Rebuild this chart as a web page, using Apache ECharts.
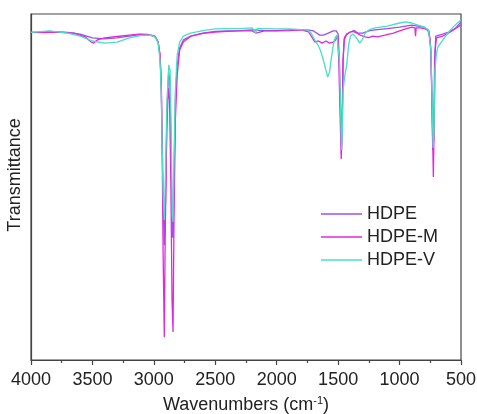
<!DOCTYPE html>
<html>
<head>
<meta charset="utf-8">
<script src="https://cdn.jsdelivr.net/npm/echarts@6/dist/echarts.min.js"></script>
<style>
  html, body { margin: 0; padding: 0; background: #fff; }
  #chart { width: 477px; height: 414px; }
</style>
</head>
<body>
<div id="chart"></div>
<script>
// FTIR spectra, [wavenumber (cm-1), transmittance (a.u.)]
const hdpe = [
  [4000, 94.7], [3900, 94.7], [3850, 95.0], [3800, 94.8], [3700, 94.7], [3600, 94.2],
  [3500, 93.1], [3400, 92.8], [3300, 93.1], [3200, 93.6], [3100, 94.1], [3030, 93.9],
  [2990, 93.4], [2965, 91.9], [2950, 88.2], [2940, 80.9], [2932, 63.6], [2925, 46.2],
  [2915, 33.2], [2905, 46.2], [2893, 72.3], [2880, 83.2], [2870, 80.9], [2860, 60.7],
  [2850, 36.1], [2844, 35.3], [2836, 52.0], [2825, 75.1], [2810, 85.3], [2790, 90.2],
  [2760, 92.5], [2700, 93.6], [2600, 94.5], [2500, 95.0], [2400, 95.1], [2300, 95.2],
  [2200, 95.4], [2100, 95.2], [2000, 95.2], [1900, 95.4], [1800, 95.5], [1750, 95.4],
  [1700, 95.1], [1650, 93.9], [1620, 93.9], [1580, 94.5], [1540, 95.1], [1515, 95.1],
  [1500, 94.2], [1490, 86.7], [1480, 72.3], [1472, 60.7], [1466, 69.4], [1460, 86.7],
  [1450, 92.5], [1430, 94.2], [1400, 94.8], [1370, 95.2], [1340, 94.5], [1300, 94.5],
  [1250, 95.1], [1200, 95.4], [1100, 95.8], [1000, 96.2], [950, 96.5], [900, 96.8],
  [850, 96.5], [800, 96.2], [770, 95.4], [750, 92.5], [740, 80.9], [730, 60.7],
  [722, 63.6], [715, 86.7], [705, 93.6], [650, 94.2], [600, 94.8], [550, 95.7], [500, 97.7]
];

const hdpeM = [
  [4000, 94.7], [3900, 94.6], [3800, 94.8], [3650, 94.5], [3560, 93.4], [3510, 91.9],
  [3490, 91.6], [3460, 92.5], [3400, 93.1], [3300, 93.5], [3200, 93.9], [3120, 94.2],
  [3050, 94.1], [2990, 93.6], [2965, 91.9], [2950, 88.2], [2940, 79.5], [2932, 60.7],
  [2925, 31.8], [2915, 6.6], [2908, 34.7], [2895, 66.5], [2882, 78.6], [2872, 75.1],
  [2862, 52.0], [2852, 17.3], [2844, 8.1], [2836, 40.5], [2825, 69.4], [2810, 82.4],
  [2790, 89.6], [2760, 91.9], [2700, 93.6], [2600, 94.4], [2500, 94.8], [2400, 95.0],
  [2300, 95.1], [2200, 95.1], [2170, 94.5], [2100, 95.1], [2000, 95.1], [1900, 95.2],
  [1800, 95.4], [1740, 94.8], [1710, 93.1], [1690, 91.9], [1660, 92.2], [1630, 91.6],
  [1600, 92.2], [1570, 91.6], [1540, 91.9], [1520, 92.5], [1505, 93.6], [1495, 86.7],
  [1485, 72.3], [1475, 58.1], [1468, 66.5], [1460, 86.7], [1450, 93.1], [1430, 94.2],
  [1400, 94.8], [1380, 95.0], [1350, 94.5], [1320, 93.9], [1280, 93.4], [1250, 93.2],
  [1220, 93.6], [1180, 93.4], [1120, 93.9], [1050, 94.5], [1000, 95.1], [950, 95.7],
  [900, 96.2], [875, 96.0], [870, 93.6], [865, 96.0], [830, 96.0], [790, 95.7],
  [760, 95.1], [745, 89.6], [735, 72.3], [725, 52.9], [718, 69.4], [710, 89.6],
  [700, 93.1], [650, 93.6], [600, 94.5], [550, 95.7], [500, 96.8]
];

const hdpeV = [
  [4000, 94.7], [3850, 95.1], [3700, 94.5], [3600, 93.6], [3500, 92.2], [3400, 91.6],
  [3300, 91.9], [3200, 93.1], [3100, 93.8], [3030, 93.9], [2990, 93.4], [2965, 91.6],
  [2950, 86.7], [2940, 78.0], [2932, 60.7], [2925, 49.1], [2915, 40.5], [2905, 54.9],
  [2893, 75.1], [2878, 85.3], [2868, 83.8], [2858, 63.6], [2850, 41.9], [2844, 39.9],
  [2836, 57.8], [2825, 78.0], [2810, 88.2], [2790, 91.9], [2760, 93.6], [2700, 94.5],
  [2600, 95.2], [2500, 95.7], [2400, 95.8], [2300, 95.8], [2200, 96.0], [2170, 94.5],
  [2160, 95.8], [2100, 95.8], [2000, 95.7], [1900, 95.7], [1800, 95.5], [1750, 95.4],
  [1720, 94.5], [1700, 93.1], [1680, 91.9], [1660, 90.8], [1640, 89.0], [1620, 86.7],
  [1600, 83.8], [1585, 81.8], [1570, 83.2], [1555, 87.3], [1540, 91.0], [1525, 93.1],
  [1510, 93.9], [1500, 93.6], [1490, 86.7], [1480, 72.3], [1472, 60.7], [1466, 66.5],
  [1460, 78.0], [1445, 82.4], [1430, 85.3], [1415, 91.0], [1400, 93.6], [1380, 94.2],
  [1350, 93.1], [1325, 91.6], [1305, 92.5], [1280, 94.5], [1250, 95.4], [1200, 96.0],
  [1100, 96.5], [1000, 97.4], [950, 97.7], [900, 97.4], [850, 96.8], [800, 96.2],
  [765, 95.4], [745, 89.6], [735, 75.1], [727, 61.3], [720, 66.5], [712, 83.8],
  [700, 88.7], [687, 90.5], [660, 91.9], [630, 93.4], [600, 94.8], [565, 96.2],
  [530, 97.4], [500, 98.3]
];

const seriesNames = ['HDPE', 'HDPE-M', 'HDPE-V'];
const seriesColors = ['#9d50e6', '#e028dc', '#46e0c4'];
const seriesData = [hdpe, hdpeM, hdpeV];

const chart = echarts.init(document.getElementById('chart'));
const font = 'Arial, "Liberation Sans", sans-serif';

chart.setOption({
  animation: false,
  backgroundColor: '#fff',
  grid: {
    left: 31, right: 16, top: 14, bottom: 54,
    outerBoundsMode: 'none',
    containLabel: false,
    show: true, borderColor: '#444', borderWidth: 1.2
  },
  legend: {
    orient: 'vertical',
    left: 316,
    top: 200,
    icon: 'rect',
    itemWidth: 41,
    itemHeight: 1.5,
    itemGap: 5,
    textStyle: { fontSize: 18, fontFamily: font, color: '#222', lineHeight: 18 },
    data: seriesNames
  },
  xAxis: {
    type: 'value',
    min: 500,
    max: 4000,
    interval: 500,
    inverse: true,
    name: 'Wavenumbers (cm{sup|-1})',
    nameLocation: 'middle',
    nameGap: 35,
    nameTextStyle: {
      fontSize: 18, fontFamily: font, color: '#222',
      rich: { sup: { fontSize: 11, fontFamily: font, color: '#222', verticalAlign: 'top', padding: [0, 0, 9, 0] } }
    },
    axisLine: { lineStyle: { color: '#444', width: 1.2 } },
    axisTick: { length: 5, lineStyle: { color: '#444', width: 1.2 } },
    minorTick: { show: true, splitNumber: 2, length: 3, lineStyle: { color: '#444', width: 1.2 } },
    axisLabel: { fontSize: 18, fontFamily: font, color: '#222', margin: 11, formatter: v => String(v) },
    splitLine: { show: false }
  },
  yAxis: {
    type: 'value',
    min: 0,
    max: 100,
    name: 'Transmittance',
    nameLocation: 'middle',
    nameGap: 7,
    nameTextStyle: { fontSize: 18, fontFamily: font, color: '#222', padding: [0, 0, 0, 24] },
    axisLine: { show: true, lineStyle: { color: '#444', width: 1.2 } },
    axisTick: { show: false },
    axisLabel: { show: false },
    splitLine: { show: false }
  },
  series: seriesNames.map((name, i) => ({
    name: name,
    type: 'line',
    data: seriesData[i],
    showSymbol: false,
    symbol: 'none',
    color: seriesColors[i],
    lineStyle: { width: 1.3, color: seriesColors[i] }
  }))
});
</script>
</body>
</html>
